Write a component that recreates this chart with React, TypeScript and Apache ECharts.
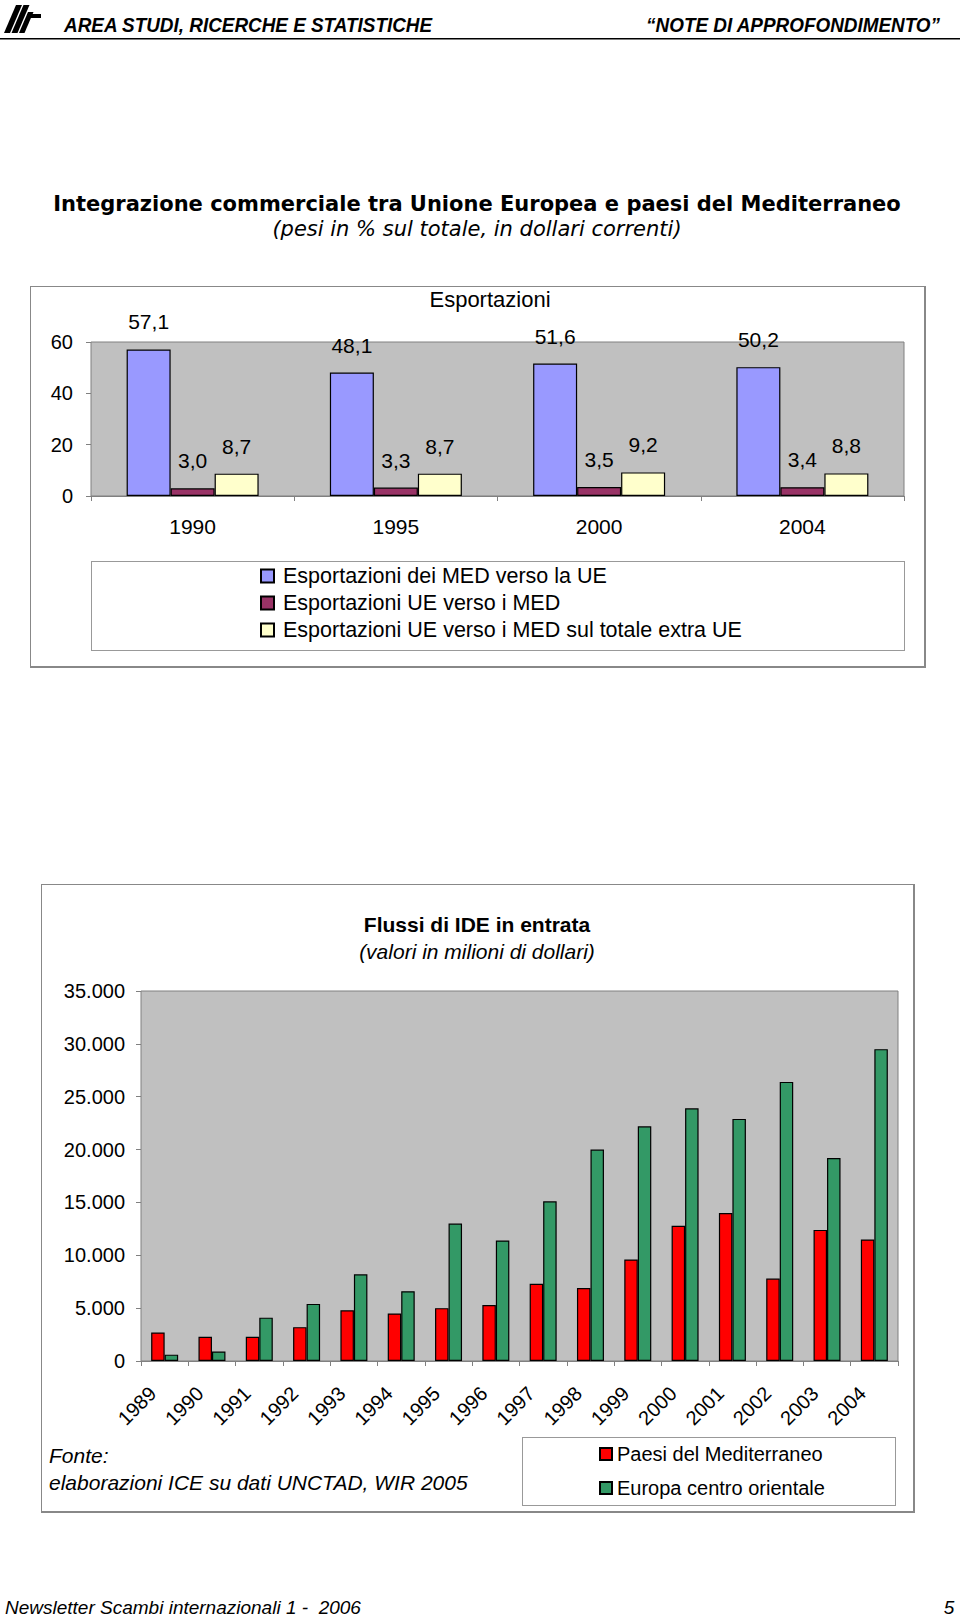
import React, { useEffect, useRef } from "react";
import * as echarts from "echarts";

// ---- Chart 1 data: Esportazioni (pesi in %)
const years1 = ["1990", "1995", "2000", "2004"];
const medVersoUe = [57.1, 48.1, 51.6, 50.2];
const ueVersoMed = [3.0, 3.3, 3.5, 3.4];
const ueVersoMedExtra = [8.7, 8.7, 9.2, 8.8];
const seriesNames1 = [
  "Esportazioni dei MED verso la UE",
  "Esportazioni UE verso i MED",
  "Esportazioni UE verso i MED sul totale extra UE",
];
const yMax1 = 60;
const yStep1 = 20;

// ---- Chart 2 data: Flussi di IDE in entrata (milioni di dollari)
const years2 = [
  "1989", "1990", "1991", "1992", "1993", "1994", "1995", "1996",
  "1997", "1998", "1999", "2000", "2001", "2002", "2003", "2004",
];
const paesiMediterraneo = [
  2700, 2300, 2300, 3200, 4800, 4500, 5000, 5300,
  7300, 6900, 9600, 12800, 14000, 7800, 12400, 11500,
];
const europaCentroOrientale = [
  600, 900, 4100, 5400, 8200, 6600, 13000, 11400,
  15100, 20000, 22200, 23900, 22900, 26400, 19200, 29500,
];
const seriesNames2 = ["Paesi del Mediterraneo", "Europa centro orientale"];
const yMax2 = 35000;
const yStep2 = 5000;

const ARIAL = "'Liberation Sans', Arial, sans-serif";
const VERDANA = "'DejaVu Sans', Verdana, sans-serif";

const fmtComma = (v: number) => v.toFixed(1).replace(".", ",");
const fmtThousands = (v: number) =>
  String(Math.round(v)).replace(/\B(?=(\d{3})+(?!\d))/g, ".");

function txt(
  text: string,
  x: number,
  y: number,
  size: number,
  opts: { align?: string; weight?: string; style?: string; family?: string; scaleX?: number } = {}
) {
  const align = opts.align || "left";
  return {
    type: "text",
    silent: true,
    x,
    y,
    scaleX: opts.scaleX || 1,
    scaleY: 1,
    style: {
      text,
      x: 0,
      y: 0,
      fill: "#000",
      fontSize: size,
      fontFamily: opts.family || ARIAL,
      fontWeight: opts.weight || "normal",
      fontStyle: opts.style || "normal",
      align,
      textAlign: align,
      verticalAlign: "middle",
      textVerticalAlign: "middle",
    },
  };
}

function stroke(bx: number, tx: number, w: number, top: number) {
  return {
    type: "polygon",
    silent: true,
    shape: { points: [[bx, 33], [bx + w, 33], [tx + w, top], [tx, top]] },
    style: { fill: "#000" },
  };
}

export default function App() {
  const ref = useRef<HTMLDivElement>(null);

  useEffect(() => {
    if (!ref.current) return;
    const chart = echarts.init(ref.current, undefined, { renderer: "svg" });

    const barBorder = { borderColor: "#000", borderWidth: 1.2 };
    const axisGrey = "#808080";

    const option: any = {
      animation: false,
      backgroundColor: "transparent",
      textStyle: { fontFamily: ARIAL, color: "#000" },
      graphic: [
        // logo
        stroke(4, 16, 6, 5),
        stroke(11.5, 23.5, 6, 5),
        stroke(19, 28, 5.5, 12),
        { type: "rect", silent: true, shape: { x: 27, y: 14, width: 14, height: 4 }, style: { fill: "#000" } },
        // header line
        { type: "rect", silent: true, shape: { x: 0, y: 38, width: 960, height: 1.5 }, style: { fill: "#000" } },
        txt("AREA STUDI, RICERCHE E STATISTICHE", 64, 25, 21, { weight: "bold", style: "italic", scaleX: 0.9 }),
        txt("\u201CNOTE DI APPROFONDIMENTO\u201D", 940, 25, 21, { weight: "bold", style: "italic", align: "right", scaleX: 0.9 }),
        // main title
        txt("Integrazione commerciale tra Unione Europea e paesi del Mediterraneo", 477, 204, 21, { weight: "bold", family: VERDANA, align: "center" }),
        txt("(pesi in % sul totale, in dollari correnti)", 477, 229, 21, { style: "italic", family: VERDANA, align: "center" }),
        // chart 1 title
        txt("Esportazioni", 490, 299, 22, { align: "center" }),
        // chart 2 titles
        txt("Flussi di IDE in entrata", 477, 924, 21, { weight: "bold", align: "center" }),
        txt("(valori in milioni di dollari)", 477, 951, 21, { style: "italic", align: "center" }),
        // fonte
        txt("Fonte:", 49, 1455, 21, { style: "italic" }),
        txt("elaborazioni ICE su dati UNCTAD, WIR 2005", 49, 1482, 21, { style: "italic" }),
        // footer
        txt("Newsletter Scambi internazionali 1 -  2006", 5, 1607, 19, { style: "italic" }),
        txt("5", 949, 1607, 19, { style: "italic", align: "center" }),
      ],
      legend: [
        {
          data: seriesNames1,
          orient: "vertical",
          left: 255,
          top: 560,
          itemWidth: 13,
          itemHeight: 13,
          itemGap: 5,
          icon: "rect",
          textStyle: { fontSize: 21.5, fontFamily: ARIAL, color: "#000", padding: [0, 0, 0, 4] },
          selectedMode: false,
        },
        {
          data: seriesNames2,
          orient: "vertical",
          left: 594,
          top: 1439,
          itemWidth: 12,
          itemHeight: 12,
          itemGap: 14,
          icon: "rect",
          textStyle: { fontSize: 20, fontFamily: ARIAL, color: "#000" },
          selectedMode: false,
        },
      ],
      grid: [
        {
          left: 91, top: 342, width: 813, height: 154,
          show: true, backgroundColor: "#C0C0C0", borderColor: axisGrey, borderWidth: 1,
        },
        {
          left: 141, top: 991, width: 757, height: 370,
          show: true, backgroundColor: "#C0C0C0", borderColor: axisGrey, borderWidth: 1,
        },
      ],
      xAxis: [
        {
          type: "category",
          gridIndex: 0,
          data: years1,
          axisLine: { show: true, lineStyle: { color: axisGrey, width: 1 } },
          axisTick: { show: true, length: 5, lineStyle: { color: axisGrey } },
          axisLabel: { fontSize: 21, color: "#000", margin: 20, fontFamily: ARIAL },
          splitLine: { show: false },
        },
        {
          type: "category",
          gridIndex: 1,
          data: years2,
          axisLine: { show: true, lineStyle: { color: axisGrey, width: 1 } },
          axisTick: { show: true, length: 5, lineStyle: { color: axisGrey } },
          axisLabel: {
            fontSize: 20, color: "#000", margin: 17, rotate: 45, fontFamily: ARIAL,
            padding: [0, 17, 0, 0],
          },
          splitLine: { show: false },
        },
      ],
      yAxis: [
        {
          type: "value",
          gridIndex: 0,
          min: 0,
          max: yMax1,
          interval: yStep1,
          axisLine: { show: false },
          axisTick: { show: true, length: 5, lineStyle: { color: axisGrey } },
          axisLabel: { fontSize: 20, color: "#000", margin: 18, fontFamily: ARIAL },
          splitLine: { show: false },
        },
        {
          type: "value",
          gridIndex: 1,
          min: 0,
          max: yMax2,
          interval: yStep2,
          axisLine: { show: false },
          axisTick: { show: true, length: 5, lineStyle: { color: axisGrey } },
          axisLabel: {
            fontSize: 20, color: "#000", margin: 16, fontFamily: ARIAL,
            formatter: (v: number) => fmtThousands(v),
          },
          splitLine: { show: false },
        },
      ],
      series: [
        ...[medVersoUe, ueVersoMed, ueVersoMedExtra].map((d, i) => ({
          type: "bar",
          name: seriesNames1[i],
          xAxisIndex: 0,
          yAxisIndex: 0,
          data: d,
          barWidth: 44,
          barGap: "0%",
          itemStyle: { color: ["#9999FF", "#993366", "#FFFFCC"][i], ...barBorder },
          label: {
            show: true,
            position: "top",
            distance: 17,
            fontSize: 21,
            fontFamily: ARIAL,
            color: "#000",
            formatter: (p: any) => fmtComma(p.value),
          },
        })),
        ...[paesiMediterraneo, europaCentroOrientale].map((d, i) => ({
          type: "bar",
          name: seriesNames2[i],
          xAxisIndex: 1,
          yAxisIndex: 1,
          data: d,
          barWidth: 13.5,
          barGap: "0%",
          itemStyle: { color: ["#FF0000", "#339966"][i], ...barBorder },
        })),
      ],
    };

    chart.setOption(option);
    return () => chart.dispose();
  }, []);

  const box = (l: number, t: number, w: number, h: number, c = "#888"): React.CSSProperties => ({
    position: "absolute",
    left: l,
    top: t,
    width: w,
    height: h,
    border: `1px solid ${c}`,
    boxSizing: "border-box",
    background: "#fff",
  });

  return (
    <div style={{ position: "absolute", left: 0, top: 0, width: 960, height: 1617, background: "#fff", overflow: "hidden" }}>
      <div style={{ ...box(30, 286, 896, 382), borderRightWidth: 2, borderBottomWidth: 2 }} />
      <div style={box(91, 561, 814, 90, "#999")} />
      <div style={{ ...box(41, 884, 874, 629), borderRightWidth: 2, borderBottomWidth: 2 }} />
      <div style={box(522, 1437, 374, 69, "#999")} />
      <div ref={ref} style={{ position: "absolute", left: 0, top: 0, width: 960, height: 1617 }} />
    </div>
  );
}
